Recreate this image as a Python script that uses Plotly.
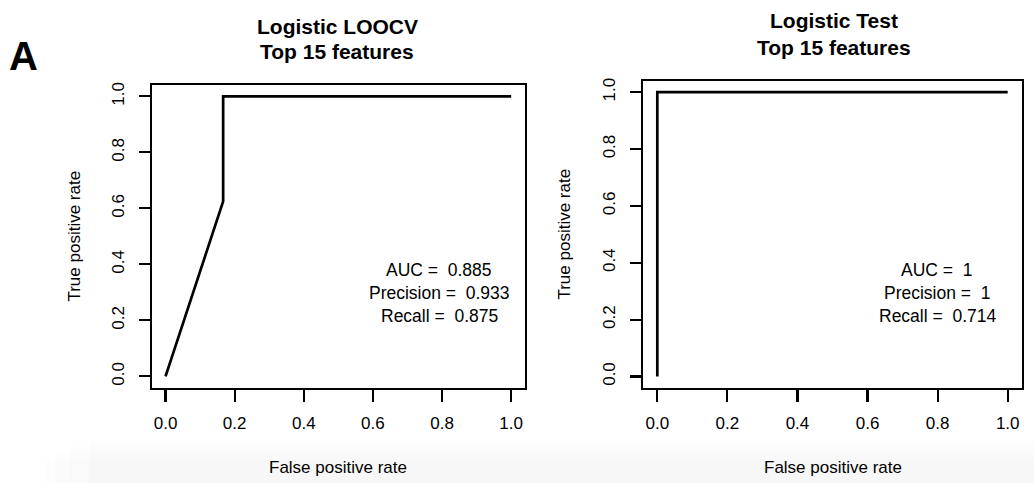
import plotly.graph_objects as go

# ---- data ----
loocv_fpr = [0.0, 0.1667, 0.1667, 1.0]
loocv_tpr = [0.0, 0.625, 1.0, 1.0]
test_fpr = [0.0, 0.0, 1.0]
test_tpr = [0.0, 1.0, 1.0]
tick_vals = [0.0, 0.2, 0.4, 0.6, 0.8, 1.0]
tick_text = ["0.0", "0.2", "0.4", "0.6", "0.8", "1.0"]
titles = [["Logistic LOOCV", "Top 15 features"], ["Logistic Test", "Top 15 features"]]
stats_left = ["AUC =\u00a0 0.885", "Precision =\u00a0 0.933", "Recall =\u00a0 0.875"]
stats_right = ["AUC =\u00a0 1", "Precision =\u00a0 1", "Recall =\u00a0 0.714"]
x_title = "False positive rate"
y_title = "True positive rate"
panel_label = "A"

W, H = 1034, 483
FONT = "Liberation Sans, Arial, Helvetica, sans-serif"


def px(x):
    return x / W


def py(y):
    return 1 - y / H


fig = go.Figure()
fig.add_trace(go.Scatter(x=loocv_fpr, y=loocv_tpr, mode="lines",
                         line=dict(color="black", width=2.7), xaxis="x", yaxis="y",
                         showlegend=False, hoverinfo="skip"))
fig.add_trace(go.Scatter(x=test_fpr, y=test_tpr, mode="lines",
                         line=dict(color="black", width=2.7), xaxis="x2", yaxis="y2",
                         showlegend=False, hoverinfo="skip"))

tickfont = dict(family=FONT, size=17, color="black")


def xax(domain, anchor):
    return dict(domain=domain, anchor=anchor, range=[-0.04, 1.04], tickvals=tick_vals,
                ticktext=tick_text, showline=True, mirror=True, linecolor="black",
                linewidth=2.2, ticks="outside", ticklen=12, tickwidth=2.2, tickcolor="black",
                showgrid=False, zeroline=False, tickfont=tickfont, ticklabelstandoff=7)


def yax(domain, anchor):
    return dict(domain=domain, anchor=anchor, range=[-0.04, 1.04], tickvals=tick_vals,
                ticktext=tick_text, showline=True, mirror=True, linecolor="black",
                linewidth=2.2, ticks="outside", ticklen=11, tickwidth=2.2, tickcolor="black",
                showgrid=False, zeroline=False, tickfont=tickfont, tickangle=-90,
                ticklabelstandoff=8)


annotations = []
# panel titles
for (cx, y1, y2), (t1, t2) in zip([(337, 24, 49), (834, 18, 45)], titles):
    for yy, tt in [(y1, t1), (y2, t2)]:
        annotations.append(dict(x=px(cx), y=py(yy), xref="paper", yref="paper",
                                text=f"<b>{tt}</b>", showarrow=False,
                                font=dict(family=FONT, size=21, color="black"),
                                xanchor="center", yanchor="middle"))
# axis titles
for cx in [338, 833]:
    annotations.append(dict(x=px(cx), y=py(467), xref="paper", yref="paper", text=x_title,
                            showarrow=False, font=dict(family=FONT, size=17, color="black"),
                            xanchor="center", yanchor="middle"))
for cx, cy in [(75, 235), (565, 233)]:
    annotations.append(dict(x=px(cx), y=py(cy), xref="paper", yref="paper", text=y_title,
                            showarrow=False, textangle=-90,
                            font=dict(family=FONT, size=17, color="black"),
                            xanchor="center", yanchor="middle"))
# stats
for cx, lines in [(439, stats_left), (937, stats_right)]:
    for yy, tt in zip([269, 292, 315], lines):
        annotations.append(dict(x=px(cx), y=py(yy), xref="paper", yref="paper", text=tt,
                                showarrow=False, font=dict(family=FONT, size=17.5, color="black"),
                                xanchor="center", yanchor="middle"))
# panel label
annotations.append(dict(x=px(23), y=py(53), xref="paper", yref="paper",
                        text=f"<b>{panel_label}</b>", showarrow=False,
                        font=dict(family=FONT, size=40, color="black"),
                        xanchor="center", yanchor="middle"))

# soft grey band at the bottom (photo background), built from stacked faint rects
shapes = []
for top, left in [(440, 90), (446, 70), (452, 55), (460, 45)]:
    shapes.append(dict(type="rect", xref="paper", yref="paper", x0=px(left), x1=1,
                       y0=0, y1=py(top), fillcolor="rgba(0,0,0,0.009)",
                       line=dict(width=0), layer="below"))

fig.update_layout(
    width=W, height=H, margin=dict(l=0, r=0, t=0, b=0),
    paper_bgcolor="white", plot_bgcolor="white",
    xaxis=xax([px(151.7), px(525)], "y"),
    yaxis=yax([py(387), py(82.7)], "x"),
    xaxis2=xax([px(643.3), px(1021.7)], "y2"),
    yaxis2=yax([py(387.3), py(78.3)], "x2"),
    annotations=annotations, shapes=shapes, showlegend=False,
)

fig.write_html("out.html", config={"displayModeBar": False, "staticPlot": True},
               post_script="document.body.style.margin='0px';document.body.style.overflow='hidden';")
